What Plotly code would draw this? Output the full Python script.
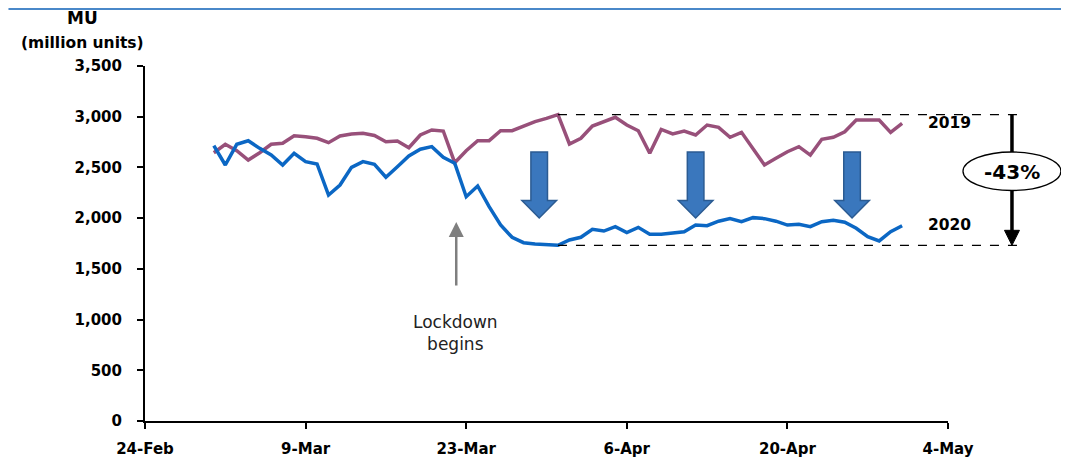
import plotly.graph_objects as go
import pandas as pd

# ---------------- data ----------------
start_date = "2020-03-01"
values_2020 = [2714, 2524, 2728, 2763, 2688, 2622, 2524, 2639, 2557, 2534,
               2228, 2327, 2501, 2557, 2530, 2403, 2507, 2613, 2679, 2705,
               2600, 2541, 2211, 2317, 2113, 1932, 1811, 1758, 1745, 1740,
               1732, 1785, 1811, 1890, 1873, 1916, 1857, 1909, 1841, 1841,
               1850, 1866, 1932, 1925, 1970, 1995, 1965, 2005, 1995, 1970,
               1932, 1939, 1916, 1965, 1980, 1960, 1900, 1817, 1775, 1866,
               1925]
values_2019 = [2645, 2728, 2665, 2573, 2645, 2728, 2738, 2813, 2803, 2787,
               2744, 2810, 2830, 2836, 2815, 2754, 2761, 2695, 2820, 2869,
               2859, 2547, 2665, 2764, 2764, 2862, 2862, 2908, 2951, 2984,
               3020, 2731, 2787, 2908, 2951, 2994, 2918, 2862, 2639, 2875,
               2830, 2859, 2820, 2918, 2895, 2797, 2846, 2679, 2524, 2590,
               2655, 2705, 2622, 2777, 2797, 2852, 2968, 2968, 2968, 2846,
               2935]
series_names = ["2019", "2020"]
pct_label = "-43%"
y_title_lines = ["MU", "(million units)"]
lockdown_text = "Lockdown<br>begins"
x_range = ["2020-02-24", "2020-05-04"]
y_range = [0, 3500]

dates = pd.date_range(start_date, periods=len(values_2020), freq="D")

# ---------------- layout geometry ----------------
OFF = 8  # page body margin
W, H = 1069 - OFF, 458 - OFF
PLOT_L, PLOT_R, PLOT_T, PLOT_B = 144.6, 948, 66, 421   # in reference pixels
L = PLOT_L - OFF
T = PLOT_T - OFF
R = W - (PLOT_R - OFF)
B = H - (PLOT_B - OFF)
PW, PH = PLOT_R - PLOT_L, PLOT_B - PLOT_T


def px(x):
    return (x - PLOT_L) / PW


def py(y):
    return (PLOT_B - y) / PH


C19 = "#98507a"
C20 = "#0b67c4"
FONT = "DejaVu Sans"

fig = go.Figure()
fig.add_trace(go.Scatter(x=dates, y=values_2019, mode="lines", name=series_names[0],
                         line=dict(color=C19, width=3.5), hoverinfo="skip"))
fig.add_trace(go.Scatter(x=dates, y=values_2020, mode="lines", name=series_names[1],
                         line=dict(color=C20, width=3.5), hoverinfo="skip"))

shapes = []
# top border line
shapes.append(dict(type="line", xref="paper", yref="paper", x0=px(OFF), x1=px(1069),
                   y0=py(OFF + 1), y1=py(OFF + 1), line=dict(color="#4a88c9", width=2)))

# dashed reference lines at 2019 peak and 2020 trough
ymax = max(values_2019)
ymin = min(values_2020)
peak_idx = values_2019.index(ymax)
x_start_paper = (dates[peak_idx] - pd.Timestamp(x_range[0])) / (pd.Timestamp(x_range[1]) - pd.Timestamp(x_range[0]))
for yv in (ymax, ymin):
    shapes.append(dict(type="line", xref="paper", yref="paper",
                       x0=x_start_paper, x1=px(1018), y0=yv / y_range[1], y1=yv / y_range[1],
                       line=dict(color="black", width=1.2, dash="dash")))

# block down arrows
for cx in (539, 695.5, 852):
    top, neck, tip, sw, hw = 152, 200.5, 218, 8.3, 17.3
    pts = [(cx - sw, top), (cx + sw, top), (cx + sw, neck), (cx + hw, neck),
           (cx, tip), (cx - hw, neck), (cx - sw, neck)]
    path = "M " + " L ".join(f"{px(a):.5f},{py(b):.5f}" for a, b in pts) + " Z"
    shapes.append(dict(type="path", xref="paper", yref="paper", path=path,
                       fillcolor="#3a77bd", line=dict(color="#2b5b92", width=1.5)))

# black vertical arrow with ellipse
ax = 1012
y_top_px = PLOT_B - ymax / y_range[1] * PH
y_bot_px = PLOT_B - ymin / y_range[1] * PH
shapes.append(dict(type="line", xref="paper", yref="paper", x0=px(ax), x1=px(ax),
                   y0=py(y_top_px), y1=py(y_bot_px - 14), line=dict(color="black", width=3.5)))
tri = [(ax - 7.5, y_bot_px - 15), (ax + 7.5, y_bot_px - 15), (ax, y_bot_px)]
shapes.append(dict(type="path", xref="paper", yref="paper",
                   path="M " + " L ".join(f"{px(a):.5f},{py(b):.5f}" for a, b in tri) + " Z",
                   fillcolor="black", line=dict(color="black", width=1)))
shapes.append(dict(type="circle", xref="paper", yref="paper",
                   x0=px(963), x1=px(1061), y0=py(190.5), y1=py(152),
                   fillcolor="white", line=dict(color="black", width=1.3)))


def label(text, x, y, size, color="black"):
    return dict(text=text, xref="paper", yref="paper", x=px(x), y=py(y),
                xanchor="center", yanchor="middle", showarrow=False,
                font=dict(family=FONT, size=size, color=color))


annotations = [
    label(f"<b>{y_title_lines[0]}</b>", 82.5, 18, 17),
    label(f"<b>{y_title_lines[1]}</b>", 82.5, 43, 15.5),
    label(f"<b>{series_names[0]}</b>", 950, 123, 15.5),
    label(f"<b>{series_names[1]}</b>", 950, 225, 15.5),
    label(f"<b>{pct_label}</b>", 1012, 171.5, 20),
    label(lockdown_text, 455, 333, 17, "#222222"),
    dict(text="", xref="paper", yref="paper", x=px(456), y=py(222), ax=0, ay=65,
         showarrow=True, arrowhead=2, arrowsize=1.2, arrowwidth=2.5, arrowcolor="#7f7f7f",
         standoff=0),
]

fig.update_layout(
    width=W, height=H,
    margin=dict(l=L, r=R, t=T, b=B, pad=0, autoexpand=False),
    paper_bgcolor="white", plot_bgcolor="white",
    showlegend=False,
    shapes=shapes, annotations=annotations,
    xaxis=dict(type="date", range=x_range, tick0=x_range[0], dtick=14 * 86400000,
               tickformat="%-d-%b", ticks="outside", ticklen=6, tickwidth=1.5,
               tickcolor="black", showline=True, linewidth=2.2, linecolor="black",
               showgrid=False, zeroline=False, ticklabelstandoff=7, automargin=False,
               tickfont=dict(family=FONT, size=15, color="black", weight="bold")),
    yaxis=dict(range=y_range, dtick=500, tickformat=",", ticks="outside", ticklen=6,
               tickwidth=1.5, tickcolor="black", showline=True, linewidth=2,
               linecolor="black", showgrid=False, zeroline=False, ticklabelstandoff=12,
               automargin=False,
               tickfont=dict(family=FONT, size=15, color="black", weight="bold")),
)

fig.write_html("out.html")
